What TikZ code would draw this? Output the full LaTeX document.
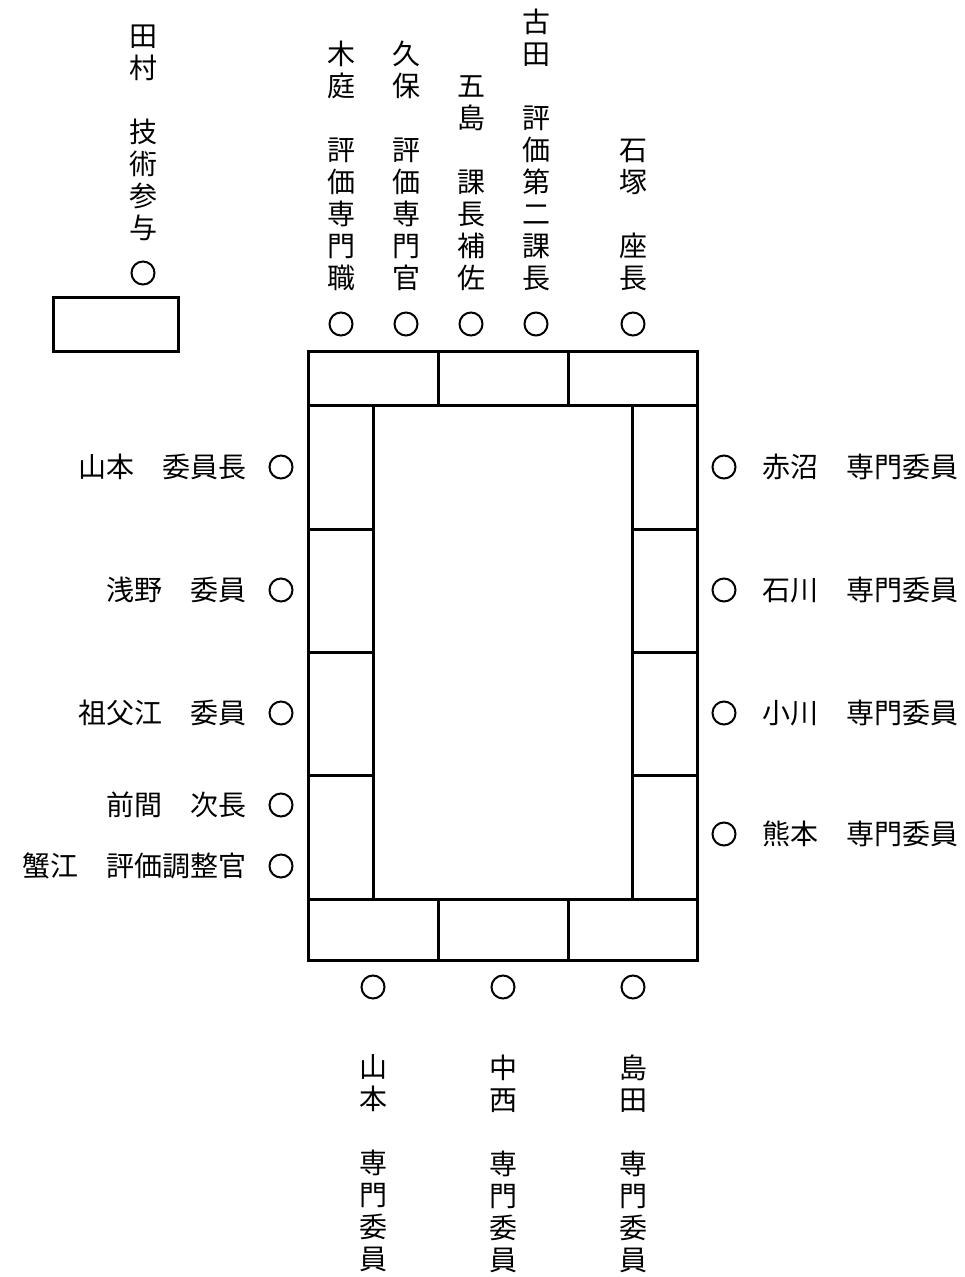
\documentclass[tikz,border=0pt]{standalone}
\usepackage{fontspec}
\setmainfont{Noto Sans CJK JP}
\usetikzlibrary{positioning}
\tikzset{
  seat/.style={circle, draw, line width=1pt, minimum size=11.5pt, inner sep=0pt},
  tate/.style={align=center, inner sep=0pt, font=\fontsize{14pt}{16pt}\selectfont},
  yoko/.style={inner sep=0pt, font=\fontsize{14pt}{16pt}\selectfont},
}
\begin{document}
\begin{tikzpicture}[x=0.5pt, y=-0.5pt, line width=1.5pt]
\useasboundingbox (0,0) rectangle (964,1277);
% table
\draw (308,352) rectangle (697,960);
\draw (308,406) -- (697,406);
\draw (308,899) -- (697,899);
\draw (373,406) -- (373,899);
\draw (632,406) -- (632,899);
\foreach \x in {438,568} {
  \draw (\x,352) -- (\x,406);
  \draw (\x,899) -- (\x,960);
}
\foreach \y in {529,652,775} {
  \draw (308,\y) -- (373,\y);
  \draw (632,\y) -- (697,\y);
}
% side desk
\draw (53,298) rectangle (178,352);
%
\node[seat] (tamura) at (143,273) {};
\node[tate, above=9pt of tamura] {田\\村\\　\\技\\術\\参\\与};
% top
\node[seat] (kiniwa) at (341,324) {};
\node[seat] (kubo) at (406,324) {};
\node[seat] (goshima) at (471,324) {};
\node[seat] (furuta) at (536,324) {};
\node[seat] (ishizuka) at (633,324) {};
\node[tate, above=9.5pt of kiniwa] {木\\庭\\　\\評\\価\\専\\門\\職};
\node[tate, above=9.5pt of kubo] {久\\保\\　\\評\\価\\専\\門\\官};
\node[tate, above=9.5pt of goshima] {五\\島\\　\\課\\長\\補\\佐};
\node[tate, above=9.5pt of furuta] {古\\田\\　\\評\\価\\第\\二\\課\\長};
\node[tate, above=9.5pt of ishizuka] {石\\塚\\　\\座\\長};
% left
\node[seat] (yamamoto) at (281,467) {};
\node[seat] (asano) at (281,590) {};
\node[seat] (sofue) at (281,713) {};
\node[seat] (maema) at (281,805) {};
\node[seat] (kanie) at (281,866) {};
\node[yoko, left=10.5pt of yamamoto] {山本　委員長};
\node[yoko, left=10.5pt of asano] {浅野　委員};
\node[yoko, left=10.5pt of sofue] {祖父江　委員};
\node[yoko, left=10.5pt of maema] {前間　次長};
\node[yoko, left=10.5pt of kanie] {蟹江　評価調整官};
% right
\node[seat] (akanuma) at (724,467) {};
\node[seat] (ishikawa) at (724,590) {};
\node[seat] (ogawa) at (724,713) {};
\node[seat] (kumamoto) at (724,834) {};
\node[yoko, right=12pt of akanuma] {赤沼　専門委員};
\node[yoko, right=12pt of ishikawa] {石川　専門委員};
\node[yoko, right=12pt of ogawa] {小川　専門委員};
\node[yoko, right=12pt of kumamoto] {熊本　専門委員};
% bottom
\node[seat] (yamamoto2) at (373,987) {};
\node[seat] (nakanishi) at (503,987) {};
\node[seat] (shimada) at (633,987) {};
\node[tate, below=27pt of yamamoto2] {山\\本\\　\\専\\門\\委\\員};
\node[tate, below=27pt of nakanishi] {中\\西\\　\\専\\門\\委\\員};
\node[tate, below=27pt of shimada] {島\\田\\　\\専\\門\\委\\員};
\end{tikzpicture}
\end{document}
